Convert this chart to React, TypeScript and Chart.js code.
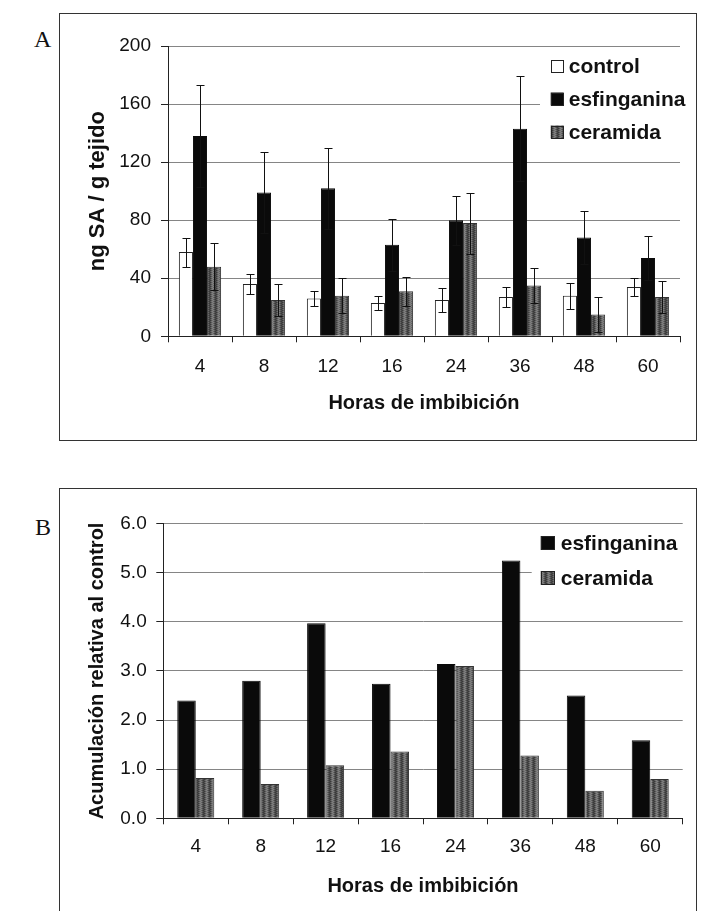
import React, { useEffect, useRef } from 'react';
import { Chart, registerables } from 'chart.js';

Chart.register(...registerables);

// ---------- data ----------
const hours = ['4', '8', '12', '16', '24', '36', '48', '60'];

const controlA = [58, 36, 26, 23, 25, 27, 28, 34];
const controlErrA = [10, 7, 5, 5, 8, 7, 9, 6];
const esfA = [138, 99, 102, 63, 80, 143, 68, 54];
const esfErrA = [35, 28, 28, 18, 17, 36, 18, 15];
const cerA = [48, 25, 28, 31, 78, 35, 15, 27];
const cerErrA = [16, 11, 12, 10, 21, 12, 12, 11];
const yTicksA = ['0', '40', '80', '120', '160', '200'];

const esfB = [2.4, 2.8, 3.97, 2.74, 3.14, 5.25, 2.5, 1.59];
const cerB = [0.82, 0.7, 1.08, 1.36, 3.1, 1.28, 0.56, 0.8];
const yTicksB = ['0.0', '1.0', '2.0', '3.0', '4.0', '5.0', '6.0'];

const seriesNames = ['control', 'esfinganina', 'ceramida'];
const xTitle = 'Horas de imbibición';
const yTitleA = 'ng SA / g tejido';
const yTitleB = 'Acumulación relativa al control';

const FAMILY = '"Liberation Sans", Arial, Helvetica, sans-serif';
const INK = '#111';

function makeCeramidaPattern(): CanvasPattern | string {
  const c = document.createElement('canvas');
  c.width = 6;
  c.height = 4;
  const g = c.getContext('2d');
  if (!g) return '#5e5e5e';
  const cols = ['#3a3a3a', '#555555', '#737373', '#808080', '#636363', '#474747'];
  for (let x = 0; x < 6; x++) {
    for (let y = 0; y < 4; y++) {
      g.fillStyle = cols[(x + (y % 2)) % 6];
      g.fillRect(x, y, 1, 1);
    }
  }
  return g.createPattern(c, 'repeat') || '#5e5e5e';
}

type LegendCfg = {
  squareDx: number;
  square: number;
  gap: number;
  firstRow: number;
  rowGap: number;
  bgDx: number;
  bgW: number;
  bgTop: number;
  bgH: number;
};

const boxLegend = (cfg: LegendCfg) => ({
  id: 'boxLegend',
  beforeDatasetsDraw(chart: any) {
    const { ctx, chartArea } = chart;
    ctx.save();
    ctx.fillStyle = '#fff';
    ctx.fillRect(chartArea.right + cfg.bgDx, chartArea.top + cfg.bgTop, cfg.bgW, cfg.bgH);
    const x0 = chartArea.right + cfg.squareDx;
    const s = cfg.square;
    chart.data.datasets.forEach((ds: any, i: number) => {
      const cy = chartArea.top + cfg.firstRow + i * cfg.rowGap;
      ctx.fillStyle = ds.backgroundColor;
      ctx.fillRect(x0, cy - s / 2, s, s);
      ctx.strokeStyle = '#222';
      ctx.lineWidth = 1;
      ctx.strokeRect(Math.round(x0) + 0.5, Math.round(cy - s / 2) + 0.5, s - 1, s - 1);
      ctx.fillStyle = INK;
      ctx.font = `bold 21px ${FAMILY}`;
      ctx.textBaseline = 'middle';
      ctx.textAlign = 'left';
      ctx.fillText(ds.label, x0 + s + cfg.gap, cy + 1);
    });
    ctx.restore();
  },
});

const errorBars = (errs: (number[] | null)[]) => ({
  id: 'errorBars',
  afterDatasetsDraw(chart: any) {
    const { ctx } = chart;
    const yScale = chart.scales.y;
    ctx.save();
    ctx.strokeStyle = '#111';
    ctx.lineWidth = 1;
    chart.data.datasets.forEach((ds: any, di: number) => {
      const e = errs[di];
      if (!e) return;
      const meta = chart.getDatasetMeta(di);
      meta.data.forEach((bar: any, i: number) => {
        const v = ds.data[i] as number;
        const x = Math.round(bar.x) + 0.5;
        const yt = Math.round(yScale.getPixelForValue(v + e[i])) + 0.5;
        const yb = Math.round(yScale.getPixelForValue(Math.max(0, v - e[i]))) + 0.5;
        ctx.beginPath();
        ctx.moveTo(x, yb);
        ctx.lineTo(x, yt);
        ctx.moveTo(x - 4, yt);
        ctx.lineTo(x + 4, yt);
        ctx.moveTo(x - 4, yb);
        ctx.lineTo(x + 4, yb);
        ctx.stroke();
      });
    });
    ctx.restore();
  },
});

type Layout = {
  padTop: number;
  padRight: number;
  xHeight: number;
  yWidth: number;
  xTickPad: number;
  yTickPad: number;
  xTitlePad: number;
  yTitlePad: number;
  yTitleSize: number;
  max: number;
  step: number;
  yTicks: string[];
  yTitle: string;
};

function makeOptions(p: Layout): any {
  return {
    responsive: true,
    maintainAspectRatio: false,
    animation: false,
    layout: { padding: { top: p.padTop, right: p.padRight, left: 0, bottom: 0 } },
    plugins: { legend: { display: false }, tooltip: { enabled: false } },
    scales: {
      x: {
        offset: true,
        grid: {
          display: true,
          drawOnChartArea: false,
          drawTicks: true,
          tickLength: 6,
          tickColor: '#222',
          offset: true,
        },
        border: { display: true, color: '#222', width: 1 },
        ticks: {
          color: INK,
          font: { family: FAMILY, size: 19 },
          padding: p.xTickPad,
          maxRotation: 0,
          autoSkip: false,
        },
        title: {
          display: true,
          text: xTitle,
          color: INK,
          font: { family: FAMILY, size: 20, weight: 'bold' },
          padding: { top: 0, bottom: p.xTitlePad },
        },
        afterFit: (s: any) => {
          s.height = p.xHeight;
        },
      },
      y: {
        min: 0,
        max: p.max,
        ticks: {
          stepSize: p.step,
          callback: (_v: any, i: number) => p.yTicks[i],
          padding: p.yTickPad,
          color: INK,
          font: { family: FAMILY, size: 19 },
        },
        grid: {
          color: '#858585',
          lineWidth: 1,
          drawTicks: true,
          tickLength: 7,
          tickColor: '#222',
        },
        border: { display: true, color: '#222', width: 1 },
        title: {
          display: true,
          text: p.yTitle,
          color: INK,
          font: { family: FAMILY, size: p.yTitleSize, weight: 'bold' },
          padding: { top: p.yTitlePad, bottom: 0 },
        },
        afterFit: (s: any) => {
          s.width = p.yWidth;
        },
      },
    },
  };
}

export default function App() {
  const refA = useRef<HTMLCanvasElement | null>(null);
  const refB = useRef<HTMLCanvasElement | null>(null);

  useEffect(() => {
    if (!refA.current || !refB.current) return;
    const cerFill = makeCeramidaPattern();

    const chartA = new Chart(refA.current, {
      type: 'bar',
      data: {
        labels: hours,
        datasets: [
          {
            label: seriesNames[0],
            data: controlA,
            backgroundColor: '#ffffff',
            borderColor: '#222',
            borderWidth: 1,
            categoryPercentage: 0.66,
            barPercentage: 1,
          },
          {
            label: seriesNames[1],
            data: esfA,
            backgroundColor: '#0a0a0a',
            borderColor: '#0a0a0a',
            borderWidth: 1,
            categoryPercentage: 0.66,
            barPercentage: 1,
          },
          {
            label: seriesNames[2],
            data: cerA,
            backgroundColor: cerFill as any,
            borderColor: '#333',
            borderWidth: 1,
            categoryPercentage: 0.66,
            barPercentage: 1,
          },
        ],
      },
      options: makeOptions({
        padTop: 32,
        padRight: 15,
        xHeight: 102.7,
        yWidth: 108,
        xTickPad: 13.3,
        yTickPad: 10,
        xTitlePad: 24,
        yTitlePad: 24.8,
        yTitleSize: 22,
        max: 200,
        step: 40,
        yTicks: yTicksA,
        yTitle: yTitleA,
      }),
      plugins: [
        errorBars([controlErrA, esfErrA, cerErrA]),
        boxLegend({
          squareDx: -129.3,
          square: 13,
          gap: 5,
          firstRow: 20,
          rowGap: 33,
          bgDx: -140,
          bgW: 150,
          bgTop: 6,
          bgH: 98,
        }),
      ],
    });

    const chartB = new Chart(refB.current, {
      type: 'bar',
      data: {
        labels: hours,
        datasets: [
          {
            label: seriesNames[1],
            data: esfB,
            backgroundColor: '#0a0a0a',
            borderColor: '#0a0a0a',
            borderWidth: 1,
            categoryPercentage: 0.57,
            barPercentage: 1,
          },
          {
            label: seriesNames[2],
            data: cerB,
            backgroundColor: cerFill as any,
            borderColor: '#333',
            borderWidth: 1,
            categoryPercentage: 0.57,
            barPercentage: 1,
          },
        ],
      },
      options: makeOptions({
        padTop: 34.6,
        padRight: 12.3,
        xHeight: 92.7,
        yWidth: 103.3,
        xTickPad: 11.3,
        yTickPad: 9.6,
        xTitlePad: 13,
        yTitlePad: 25,
        yTitleSize: 20,
        max: 6,
        step: 1,
        yTicks: yTicksB,
        yTitle: yTitleB,
      }),
      plugins: [
        boxLegend({
          squareDx: -142,
          square: 14,
          gap: 6,
          firstRow: 19.4,
          rowGap: 35,
          bgDx: -151,
          bgW: 160,
          bgTop: 4.4,
          bgH: 70,
        }),
      ],
    });

    return () => {
      chartA.destroy();
      chartB.destroy();
    };
  }, []);

  const letter: React.CSSProperties = {
    position: 'absolute',
    font: '24px "Liberation Serif", "Times New Roman", serif',
    lineHeight: '24px',
    color: '#111',
  };

  return (
    <div
      style={{
        position: 'fixed',
        left: 0,
        top: 0,
        width: 704,
        height: 911,
        background: '#fff',
        overflow: 'hidden',
      }}
    >
      <div style={{ ...letter, left: 34, top: 27 }}>A</div>
      <div
        style={{
          position: 'absolute',
          left: 59,
          top: 13,
          width: 636,
          height: 426,
          border: '1px solid #333',
        }}
      />
      <div style={{ position: 'absolute', left: 60, top: 14, width: 635, height: 425 }}>
        <canvas ref={refA} />
      </div>

      <div style={{ ...letter, left: 35, top: 515 }}>B</div>
      <div
        style={{
          position: 'absolute',
          left: 59,
          top: 488,
          width: 636,
          height: 520,
          border: '1px solid #333',
        }}
      />
      <div style={{ position: 'absolute', left: 60, top: 489, width: 635, height: 422 }}>
        <canvas ref={refB} />
      </div>
    </div>
  );
}
